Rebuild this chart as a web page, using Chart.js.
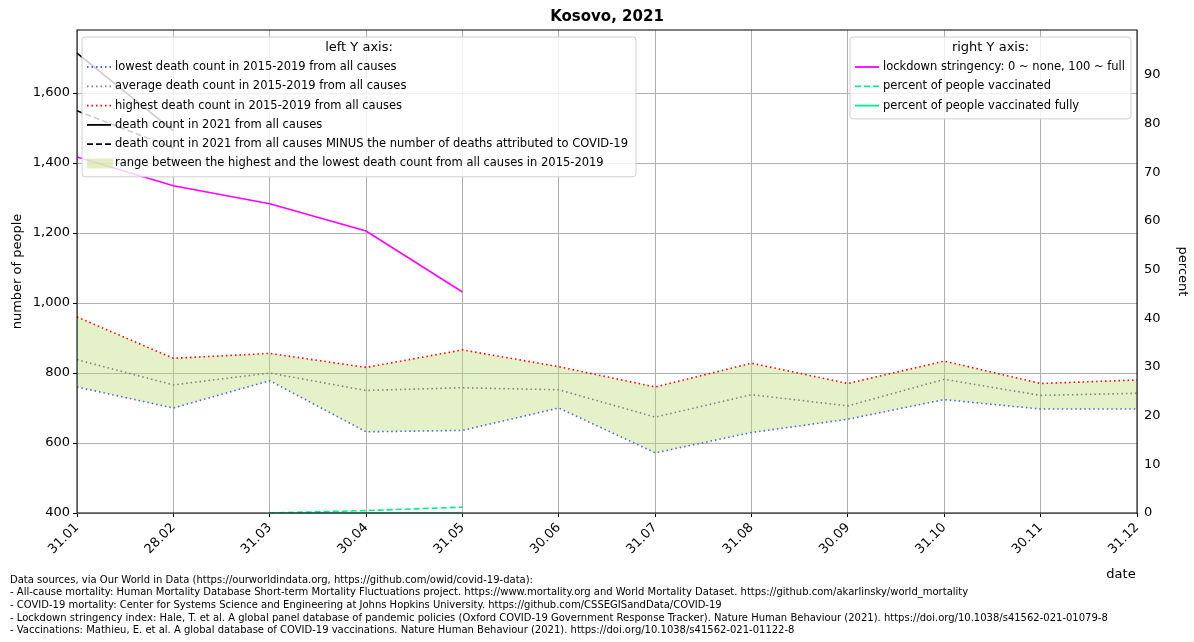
<!DOCTYPE html>
<html><head><meta charset="utf-8">
<script src="https://cdn.jsdelivr.net/npm/chart.js@4"></script>
<style>html,body{margin:0;padding:0;background:#fff}#wrap{width:1194px;height:642px;position:relative}</style>
</head><body><div id="wrap"><canvas id="c" width="1194" height="642"></canvas></div>
<script>
const labels=["31.01","28.02","31.03","30.04","31.05","30.06","31.07","31.08","30.09","31.10","30.11","31.12"];
const lowest=[760,700,778,632,636,700,572,630,668,724,697,697];
const average=[838,766,800,750,758,752,674,738,706,782,736,742];
const highest=[960,842,856,816,866,818,760,828,770,834,770,780];
const deaths2021=[1714,1492,null,null,null,null,null,null,null,null,null,null];
const deathsMinusCovid=[1549,1443,null,null,null,null,null,null,null,null,null,null];
const stringency=[73.1,67.2,63.5,57.9,45.4,null,null,null,null,null,null,null];
const vaccinated=[null,null,0,0.5,1.2,null,null,null,null,null,null,null];
const vaccinatedFully=[null,null,0,0,0,null,null,null,null,null,null,null];
const leftTicks=[400,600,800,1000,1200,1400,1600];
const rightTicks=[0,10,20,30,40,50,60,70,80,90];
const sources=["Data sources, via Our World in Data (https://ourworldindata.org, https://github.com/owid/covid-19-data):",
"- All-cause mortality: Human Mortality Database Short-term Mortality Fluctuations project. https://www.mortality.org and World Mortality Dataset. https://github.com/akarlinsky/world_mortality",
"- COVID-19 mortality: Center for Systems Science and Engineering at Johns Hopkins University. https://github.com/CSSEGISandData/COVID-19",
"- Lockdown stringency index: Hale, T. et al. A global panel database of pandemic policies (Oxford COVID-19 Government Response Tracker). Nature Human Behaviour (2021). https://doi.org/10.1038/s41562-021-01079-8",
"- Vaccinations: Mathieu, E. et al. A global database of COVID-19 vaccinations. Nature Human Behaviour (2021). https://doi.org/10.1038/s41562-021-01122-8"];
const F='"DejaVu Sans", sans-serif';
const leftLegend=[["lowest death count in 2015-2019 from all causes","#4169e1",[1.5,3],"l"],
["average death count in 2015-2019 from all causes","#808080",[1.5,3],"l"],
["highest death count in 2015-2019 from all causes","#ff0000",[1.5,3],"l"],
["death count in 2021 from all causes","#000",[],"l"],
["death count in 2021 from all causes MINUS the number of deaths attributed to COVID-19","#000",[6,3],"l"],
["range between the highest and the lowest death count from all causes in 2015-2019","rgba(190,220,120,0.45)",[],"b"]];
const rightLegend=[["lockdown stringency: 0 ~ none, 100 ~ full","#ff00ff",[],"l"],
["percent of people vaccinated","#00ee88",[6,3],"l"],
["percent of people vaccinated fully","#00ee99",[],"l"]];
function drawLegend(ctx,x,y,w,title,items){
  const h=24+items.length*19.3;
  ctx.save();ctx.fillStyle="rgba(255,255,255,0.8)";ctx.strokeStyle="#d0d0d0";ctx.lineWidth=1;
  ctx.beginPath();ctx.roundRect(x,y,w,h,3);ctx.fill();ctx.stroke();
  ctx.fillStyle="#000";ctx.font="13px "+F;ctx.textAlign="center";ctx.textBaseline="middle";
  ctx.fillText(title,x+w/2,y+11);
  ctx.font="11.5px "+F;ctx.textAlign="left";
  items.forEach((it,i)=>{const yy=y+30+i*19.3;
    if(it[3]==="b"){ctx.fillStyle=it[1];ctx.fillRect(x+5,yy-5,26,10);}
    else{ctx.strokeStyle=it[1];ctx.lineWidth=1.8;ctx.setLineDash(it[2]);ctx.beginPath();ctx.moveTo(x+5,yy);ctx.lineTo(x+29,yy);ctx.stroke();ctx.setLineDash([]);}
    ctx.fillStyle="#000";ctx.fillText(it[0],x+33,yy);});
  ctx.restore();
}
const deco={id:"deco",afterDraw(ch){const ctx=ch.ctx,a=ch.chartArea;
  ctx.save();ctx.strokeStyle="#000";ctx.lineWidth=1;ctx.strokeRect(a.left,a.top,a.right-a.left,a.bottom-a.top);
  ctx.fillStyle="#000";ctx.font="bold 15px "+F;ctx.textAlign="center";ctx.textBaseline="middle";
  ctx.fillText("Kosovo, 2021",(a.left+a.right)/2,17);
  ctx.font="13px "+F;ctx.fillText("date",1121,575);
  ctx.font="10px "+F;ctx.textAlign="left";
  sources.forEach((s,i)=>ctx.fillText(s,10,580+i*12.7));
  ctx.restore();
  drawLegend(ctx,82,37,554,"left Y axis:",leftLegend);
  drawLegend(ctx,850,37,281,"right Y axis:",rightLegend);
}};
const ds=(label,data,color,dash,axis,extra)=>Object.assign({label,data,borderColor:color,borderDash:dash,yAxisID:axis,pointRadius:0,borderWidth:1.6,fill:false,tension:0,spanGaps:false},extra||{});
new Chart(document.getElementById("c"),{type:"line",
data:{labels,datasets:[
ds("lowest",lowest,"#4169e1",[1.5,3],"y"),
ds("average",average,"#808080",[1.5,3],"y"),
ds("highest",highest,"#ff0000",[1.5,3],"y",{fill:0,backgroundColor:"rgba(190,220,120,0.4)"}),
ds("2021",deaths2021,"#000",[],"y"),
ds("minus covid",deathsMinusCovid,"#000",[6,3],"y"),
ds("stringency",stringency,"#ff00ff",[],"y1"),
ds("vacc",vaccinated,"#00ee88",[6,3],"y1"),
ds("vacc fully",vaccinatedFully,"#00ee99",[],"y1")]},
options:{responsive:false,animation:false,layout:{padding:{top:30,left:6,right:0,bottom:0}},
plugins:{legend:{display:false},title:{display:false},tooltip:{enabled:false}},
scales:{
x:{offset:false,grid:{color:"#b0b0b0",drawTicks:true,tickLength:4,tickColor:"#000"},border:{display:false},
 ticks:{color:"#000",font:{size:13,family:F},maxRotation:45,minRotation:45,autoSkip:false},
 afterFit(s){s.height=129;}},
y:{position:"left",min:400,max:1780,grid:{color:"#b0b0b0",tickColor:"#000",tickLength:4},border:{display:false},
 afterBuildTicks(s){s.ticks=leftTicks.map(v=>({value:v}));},
 ticks:{color:"#000",font:{size:13,family:F},autoSkip:false},
 title:{display:true,text:"number of people",color:"#000",font:{size:13,family:F}},
 afterFit(s){s.width=71;}},
y1:{position:"right",min:0,max:99.2,grid:{display:false,tickColor:"#000",tickLength:4},border:{display:false},
 afterBuildTicks(s){s.ticks=rightTicks.map(v=>({value:v}));},
 ticks:{color:"#000",font:{size:13,family:F},autoSkip:false},
 title:{display:true,text:"percent",color:"#000",font:{size:13,family:F}},
 afterFit(s){s.width=57;}}}},
plugins:[deco]});
</script></body></html>
